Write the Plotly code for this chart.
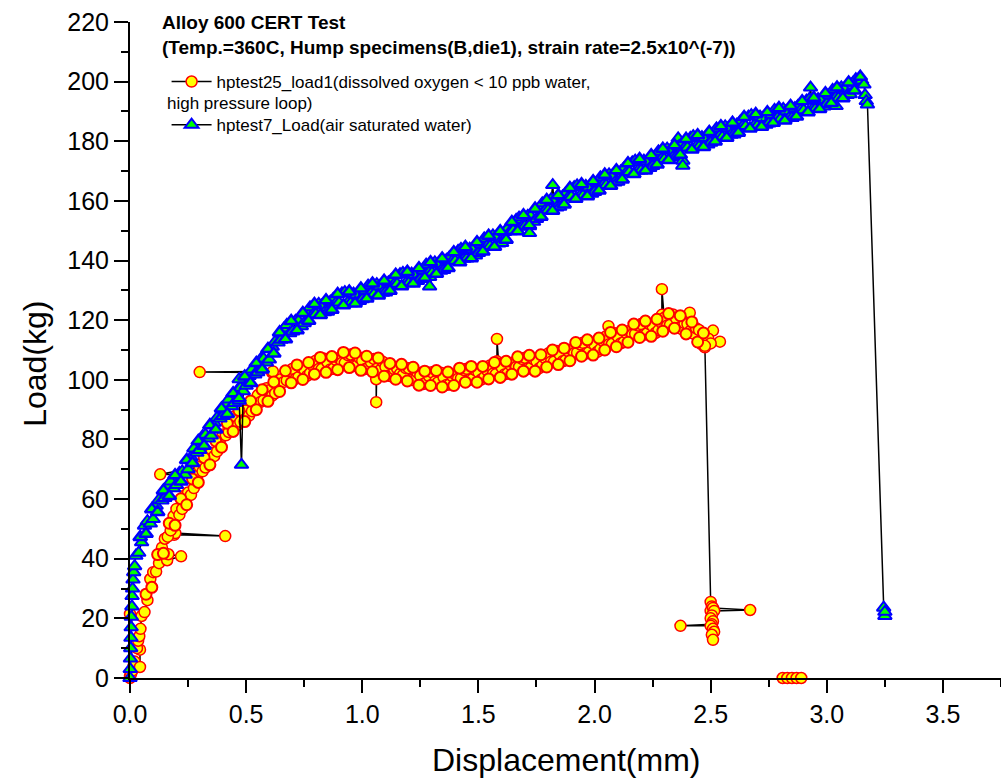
import plotly.graph_objects as go

# ---- data: hptest25_load1 (dissolved oxygen < 10 ppb water, high pressure loop) ----
red_x = [0.0, 0.0, 0.005, 0.0, 0.01, 0.015, 0.02, 0.043, 0.043, 0.03, 0.035, 0.04, 0.045,
         0.05, 0.0625, 0.075, 0.0875, 0.1, 0.1125, 0.125, 0.16, 0.22, 0.165, 0.1375, 0.15,
         0.19, 0.41, 0.195, 0.1625, 0.175, 0.1875, 0.2, 0.2125, 0.225, 0.2375, 0.25, 0.2625,
         0.275, 0.2875, 0.29, 0.13, 0.3, 0.3125, 0.325, 0.3375, 0.35, 0.3625, 0.375, 0.3875,
         0.4, 0.4125, 0.425, 0.4375, 0.45, 0.4625, 0.475, 0.4875, 0.5, 0.5125, 0.525, 0.5375,
         0.55, 0.5625, 0.575, 0.5875, 0.6, 0.612, 0.3, 0.615, 0.6125, 0.625, 0.6375, 0.65,
         0.6625, 0.675, 0.6875, 0.7, 0.7125, 0.725, 0.7375, 0.75, 0.7625, 0.775, 0.7875, 0.8,
         0.8125, 0.825, 0.8375, 0.85, 0.8625, 0.875, 0.8875, 0.9, 0.9125, 0.925, 0.9375, 0.95,
         0.9625, 0.975, 0.9875, 1.0, 1.0125, 1.025, 1.0375, 1.05, 1.06, 1.06, 1.0625, 1.075,
         1.0875, 1.1, 1.1125, 1.125, 1.1375, 1.15, 1.1625, 1.175, 1.1875, 1.2, 1.2125, 1.225,
         1.2375, 1.25, 1.2625, 1.275, 1.2875, 1.3, 1.3125, 1.325, 1.3375, 1.35, 1.3625, 1.375,
         1.3875, 1.4, 1.4125, 1.425, 1.4375, 1.45, 1.4625, 1.475, 1.4875, 1.5, 1.5125, 1.525,
         1.5375, 1.55, 1.5625, 1.575, 1.58, 1.58, 1.5875, 1.6, 1.6125, 1.625, 1.6375, 1.65,
         1.6625, 1.675, 1.6875, 1.7, 1.7125, 1.725, 1.7375, 1.75, 1.7625, 1.775, 1.7875, 1.8,
         1.8125, 1.825, 1.8375, 1.85, 1.8625, 1.875, 1.8875, 1.9, 1.9125, 1.925, 1.9375, 1.95,
         1.9625, 1.975, 1.9875, 2.0, 2.0125, 2.025, 2.0375, 2.05, 2.06, 2.0625, 2.075, 2.0875,
         2.1, 2.1125, 2.125, 2.1375, 2.15, 2.1625, 2.175, 2.1875, 2.2, 2.2125, 2.225, 2.2375,
         2.25, 2.2625, 2.275, 2.2875, 2.29, 2.29, 2.3, 2.3125, 2.325, 2.3375, 2.35, 2.3625,
         2.375, 2.3875, 2.4, 2.41, 2.4125, 2.425, 2.4375, 2.45, 2.4625, 2.475,
         2.51, 2.49, 2.54, 2.5, 2.475,
         2.5, 2.505, 2.5, 2.51, 2.67, 2.515, 2.505, 2.5, 2.51, 2.505, 2.37, 2.5, 2.51, 2.515,
         2.505, 2.51, None, 2.81, 2.83, 2.85, 2.87, 2.89]
red_y = [0.0, 0.8, 1.5, 21.5, 2.5, 4.0, 5.5, 3.7, 9.5, 10.0, 12.5, 14.0, 16.5,
         20.8, 22.1, 26.1, 33.2, 35.5, 35.7, 38.5, 39.5, 40.8, 41.5, 43.7, 46.7,
         48.0, 47.6, 48.6, 47.4, 49.5, 54.3, 56.7, 54.7, 56.7, 61.3, 62.2, 61.4,
         63.7, 67.7, 68.0, 68.3, 70.8, 69.3, 70.6, 75.4, 75.5, 74.4, 76.0, 80.0,
         81.7, 81.4, 82.5, 86.3, 87.7, 84.8, 85.9, 89.6, 89.7, 88.0, 89.5, 92.6,
         94.8, 92.6, 93.1, 97.2, 96.5, 102.4, 102.6, 102.8, 94.7, 95.5, 99.0, 100.2,
         99.3, 99.8, 102.9, 103.7, 100.3, 100.9, 104.0, 103.5, 101.3, 102.2, 104.7, 106.4,
         103.6, 103.6, 107.1, 105.9, 103.5, 103.7, 106.6, 107.2, 105.7, 105.7, 108.3, 108.5,
         104.6, 104.7, 107.4, 106.4, 103.6, 104.0, 105.9, 107.0, 100.2, 92.5, 103.7, 103.1,
         106.1, 104.3, 101.4, 101.2, 103.6, 103.8, 102.0, 101.6, 103.9, 103.9, 99.9, 99.8,
         102.4, 101.3, 98.6, 99.1, 101.2, 102.5, 99.4, 99.1, 102.4, 100.9, 98.3, 98.4,
         101.2, 101.8, 100.4, 100.5, 103.3, 103.7, 100.0, 100.3, 103.2, 102.5, 100.1, 100.8,
         103.2, 104.8, 102.0, 101.9, 106.2, 113.7, 105.4, 104.2, 101.8, 102.1, 105.0, 105.7,
         104.3, 104.3, 107.0, 107.4, 103.7, 104.0, 106.9, 106.2, 103.9, 104.7, 107.2, 108.8,
         106.1, 106.1, 109.7, 108.5, 106.2, 106.5, 109.5, 110.2, 108.9, 109.1, 111.9, 112.4,
         108.8, 109.2, 112.3, 111.7, 109.4, 110.3, 112.9, 114.6, 118.0, 111.9, 112.0, 115.6,
         114.5, 112.2, 112.6, 115.6, 116.4, 115.2, 115.4, 118.2, 118.7, 115.1, 115.5, 118.6,
         118.0, 115.7, 116.6, 119.1, 121.8, 130.4, 120.8, 118.2, 118.4, 121.9, 120.7, 117.5,
         117.0, 119.0, 118.7, 122.5, 116.4, 115.5, 117.3, 116.7, 111.8, 110.9,
         116.5, 113.8, 112.8, 112.2, 111.4,
         25.5, 24.0, 22.5, 23.5, 22.8, 22.5, 21.0, 20.0, 19.0, 18.0, 17.5, 17.5, 16.5, 15.5,
         14.5, 12.8, None, 0.0, 0.0, 0.0, 0.0, 0.0]

# additional readings inside the dense red band (symbols only)
red_band_x = [0.069, 0.094, 0.119, 0.144, 0.169, 0.194, 0.219, 0.244, 0.269, 0.294,
              0.319, 0.344, 0.369, 0.394, 0.419, 0.444, 0.469, 0.494, 0.519, 0.544,
              0.569, 0.594, 0.619, 0.644, 0.669, 0.694, 0.719, 0.744, 0.769, 0.794,
              0.819, 0.844, 0.869, 0.894, 0.919, 0.944, 0.969, 0.994, 1.019, 1.044,
              1.069, 1.094, 1.119, 1.144, 1.169, 1.194, 1.219, 1.244, 1.269, 1.294,
              1.319, 1.344, 1.369, 1.394, 1.419, 1.444, 1.469, 1.494, 1.519, 1.544,
              1.569, 1.594, 1.619, 1.644, 1.669, 1.694, 1.719, 1.744, 1.769, 1.794,
              1.819, 1.844, 1.869, 1.894, 1.919, 1.944, 1.969, 1.994, 2.019, 2.044,
              2.069, 2.094, 2.119, 2.144, 2.169, 2.194, 2.219, 2.244, 2.269, 2.294,
              2.319, 2.344, 2.369, 2.394, 2.419, 2.444, 2.469]
red_band_y = [28.1, 30.4, 41.4, 41.8, 51.9, 51.2, 60.1, 58.1, 66.7, 65.6,
              73.9, 71.5, 79.5, 77.4, 85.4, 82.7, 89.7, 86.0, 92.9, 90.0,
              96.7, 92.8, 99.3, 96.1, 103.0, 99.0, 105.0, 100.1, 105.8, 101.9,
              107.5, 102.5, 107.8, 103.4, 109.2, 104.1, 109.0, 103.2, 107.9, 102.7,
              107.3, 101.2, 105.5, 100.2, 105.2, 99.6, 104.2, 98.2, 102.9, 98.1,
              103.1, 97.6, 102.6, 98.1, 103.9, 99.2, 104.5, 99.2, 104.5, 100.3,
              105.8, 100.8, 106.2, 101.9, 107.7, 102.9, 108.2, 102.9, 108.4, 104.3,
              110.0, 105.1, 110.6, 106.4, 112.5, 107.9, 113.4, 108.3, 114.0, 110.0,
              115.9, 111.1, 116.7, 112.6, 118.7, 114.2, 119.7, 114.6, 120.3, 116.3,
              122.2, 117.3, 121.5, 115.4, 119.4, 112.7, 115.7]

# ---- data: hptest7_Load (air saturated water) ----
blue_x = [0.0, 0.001, 0.002, 0.003, 0.004, 0.005, 0.006, 0.008, 0.009, 0.011, 0.013, 0.016, 0.02,
          0.025, 0.0375, 0.05, 0.0625, 0.075, 0.0875, 0.1, 0.1125, 0.125, 0.1375, 0.15, 0.1625,
          0.175, 0.1875, 0.2, 0.2125, 0.225, 0.2375, 0.25, 0.2625, 0.275, 0.2875, 0.3, 0.3125,
          0.325, 0.3375, 0.35, 0.3625, 0.375, 0.3875, 0.4, 0.4125, 0.425, 0.4375, 0.45, 0.4625,
          0.475, 0.47, 0.47, 0.48, 0.4875, 0.5, 0.5125, 0.525, 0.5375, 0.55, 0.5625, 0.575,
          0.5875, 0.6, 0.6125, 0.625, 0.6375, 0.65, 0.6625, 0.675, 0.6875, 0.7, 0.7125, 0.725,
          0.7375, 0.75, 0.7625, 0.775, 0.7875, 0.8, 0.8125, 0.825, 0.8375, 0.85, 0.8625, 0.875,
          0.8875, 0.9, 0.9125, 0.925, 0.9375, 0.95, 0.9625, 0.975, 0.9875, 1.0, 1.0125, 1.025,
          1.0375, 1.05, 1.0625, 1.075, 1.0875, 1.1, 1.1125, 1.125, 1.1375, 1.15, 1.1625, 1.175,
          1.1875, 1.2, 1.2125, 1.225, 1.2375, 1.25, 1.2625, 1.275, 1.2875, 1.29, 1.29, 1.3,
          1.3125, 1.325, 1.3375, 1.35, 1.3625, 1.375, 1.3875, 1.4, 1.4125, 1.425, 1.4375, 1.45,
          1.4625, 1.475, 1.4875, 1.5, 1.5125, 1.525, 1.5375, 1.55, 1.5625, 1.575, 1.5875, 1.6,
          1.6125, 1.625, 1.6375, 1.65, 1.6625, 1.675, 1.6875, 1.7, 1.7125, 1.72, 1.72, 1.725,
          1.7375, 1.75, 1.7625, 1.775, 1.7875, 1.8, 1.8125, 1.82, 1.825, 1.8375, 1.85, 1.8625,
          1.875, 1.8875, 1.9, 1.9125, 1.925, 1.9375, 1.95, 1.9625, 1.975, 1.9875, 2.0, 2.0125,
          2.025, 2.0375, 2.05, 2.0625, 2.075, 2.0875, 2.1, 2.1125, 2.125, 2.1375, 2.15, 2.1625,
          2.175, 2.1875, 2.2, 2.2125, 2.225, 2.2375, 2.25, 2.2625, 2.275, 2.2875, 2.3, 2.3125,
          2.325, 2.3375, 2.35, 2.36, 2.38, 2.38, 2.3625, 2.375, 2.3875, 2.4, 2.4125, 2.425,
          2.4375, 2.45, 2.4625, 2.475, 2.4875, 2.5, 2.5125, 2.525, 2.5375, 2.55, 2.5625, 2.575,
          2.5875, 2.6, 2.6125, 2.625, 2.6375, 2.65, 2.6625, 2.675, 2.6875, 2.7, 2.7125, 2.725,
          2.7375, 2.75, 2.7625, 2.775, 2.7875, 2.8, 2.8125, 2.825, 2.8375, 2.85, 2.8625, 2.875,
          2.8875, 2.9, 2.9125, 2.925, 2.93, 2.9375, 2.95, 2.9625, 2.975, 2.9875, 3.0, 3.0125,
          3.025, 3.04, 3.0375, 3.05, 3.0625, 3.075, 3.0875, 3.1, 3.1125, 3.125, 3.1375, 3.15,
          3.16, 3.165, 3.17, 3.175, 3.245, 3.25, 3.25]
blue_y = [0.0, 3.0, 6.5, 10.0, 13.5, 17.0, 20.5, 24.0, 27.5, 30.0, 33.0, 35.5, 37.5,
          41.0, 42.0, 45.5, 51.1, 52.6, 51.8, 53.3, 57.8, 59.8, 59.5, 60.4, 64.5,
          65.9, 63.6, 64.7, 68.8, 69.3, 68.2, 70.0, 74.0, 77.0, 75.5, 76.5, 81.1,
          81.6, 80.3, 81.3, 85.6, 87.3, 87.0, 87.9, 92.0, 93.4, 91.1, 92.2, 96.5,
          97.3, 100.2, 93.0, 71.5, 96.2, 98.0, 101.3, 103.5, 101.8, 102.5, 106.9, 107.1,
          105.8, 106.8, 111.1, 112.8, 112.5, 113.4, 117.2, 118.4, 115.6, 116.2, 119.8, 119.8,
          118.0, 119.0, 122.2, 124.3, 121.9, 122.0, 125.5, 124.9, 122.7, 122.8, 126.2, 127.1,
          125.9, 125.9, 129.0, 129.4, 125.9, 125.7, 128.9, 128.6, 126.4, 127.0, 129.8, 131.6,
          128.9, 128.7, 132.1, 131.4, 129.2, 129.3, 132.7, 133.5, 132.2, 132.2, 135.4, 135.9,
          132.5, 132.4, 135.6, 135.3, 133.1, 133.8, 136.7, 138.6, 136.0, 134.5, 131.3, 135.9,
          139.4, 138.8, 136.6, 136.8, 140.2, 141.1, 139.9, 139.9, 143.2, 143.9, 140.6, 140.7,
          144.0, 143.8, 141.7, 142.5, 145.5, 147.4, 144.9, 144.8, 148.4, 147.8, 145.7, 145.9,
          149.6, 150.7, 149.8, 150.1, 153.6, 154.4, 151.3, 151.5, 155.0, 151.5, 149.2, 154.9,
          153.0, 153.9, 157.1, 159.2, 156.8, 156.9, 160.5, 165.3, 159.9, 157.8, 158.0, 161.5,
          162.4, 161.3, 161.4, 164.6, 165.2, 161.8, 161.8, 165.0, 164.6, 162.4, 163.0, 166.0,
          167.9, 165.4, 165.3, 168.9, 168.3, 166.2, 166.4, 169.9, 170.8, 169.6, 169.7, 172.9,
          173.5, 170.2, 170.2, 173.5, 173.2, 171.0, 171.7, 174.7, 176.6, 174.1, 174.0, 177.5,
          176.9, 174.7, 174.8, 181.0, 173.5, 171.8, 178.2, 179.1, 177.9, 177.9, 181.1, 181.7,
          178.3, 178.2, 181.4, 181.1, 178.9, 179.5, 182.4, 184.3, 181.7, 181.5, 185.0, 184.4,
          182.2, 182.3, 185.6, 186.4, 185.1, 185.1, 188.3, 188.8, 185.3, 185.2, 188.3, 187.8,
          185.5, 186.0, 188.8, 190.5, 187.8, 187.5, 190.9, 190.1, 187.8, 187.8, 191.1, 191.8,
          190.5, 190.4, 193.6, 194.2, 198.0, 190.8, 190.8, 194.1, 193.8, 191.7, 192.5, 195.4,
          197.2, 191.8, 194.6, 194.5, 198.1, 197.6, 195.5, 195.8, 199.6, 200.8, 199.9, 200.4,
          199.0, 195.5, 193.5, 192.3, 23.6, 20.8, 22.2]

# additional readings inside the dense blue band (symbols only)
blue_band_x = [0.044, 0.069, 0.094, 0.119, 0.144, 0.169, 0.194, 0.219, 0.244, 0.269,
               0.294, 0.319, 0.344, 0.369, 0.394, 0.419, 0.444, 0.469, 0.494, 0.519,
               0.544, 0.569, 0.594, 0.619, 0.644, 0.669, 0.694, 0.719, 0.744, 0.769,
               0.794, 0.819, 0.844, 0.869, 0.894, 0.919, 0.944, 0.969, 0.994, 1.019,
               1.044, 1.069, 1.094, 1.119, 1.144, 1.169, 1.194, 1.219, 1.244, 1.269,
               1.294, 1.319, 1.344, 1.369, 1.394, 1.419, 1.444, 1.469, 1.494, 1.519,
               1.544, 1.569, 1.594, 1.619, 1.644, 1.669, 1.694, 1.719, 1.744, 1.769,
               1.794, 1.819, 1.844, 1.869, 1.894, 1.919, 1.944, 1.969, 1.994, 2.019,
               2.044, 2.069, 2.094, 2.119, 2.144, 2.169, 2.194, 2.219, 2.244, 2.269,
               2.294, 2.319, 2.344, 2.369, 2.394, 2.419, 2.444, 2.469, 2.494, 2.519,
               2.544, 2.569, 2.594, 2.619, 2.644, 2.669, 2.694, 2.719, 2.744, 2.769,
               2.794, 2.819, 2.844, 2.869, 2.894, 2.919, 2.944, 2.969, 2.994, 3.019,
               3.044, 3.069, 3.094, 3.119, 3.144]
blue_band_y = [47.3, 48.4, 56.6, 55.7, 62.9, 61.0, 68.0, 65.9, 73.1, 72.1,
               79.5, 77.9, 84.8, 83.3, 90.4, 88.5, 95.5, 93.8, 101.1, 98.9,
               105.6, 103.5, 110.3, 108.8, 115.9, 113.6, 119.7, 116.6, 122.4, 119.8,
               125.4, 121.7, 126.7, 123.5, 128.8, 125.0, 129.6, 125.6, 130.6, 127.3,
               132.3, 128.3, 133.2, 129.9, 135.2, 131.4, 136.2, 132.3, 137.4, 134.2,
               139.4, 135.6, 140.7, 137.5, 142.8, 139.4, 144.5, 140.8, 146.1, 143.0,
               148.3, 144.6, 149.8, 147.0, 152.9, 149.8, 155.2, 151.8, 157.4, 154.7,
               160.3, 156.7, 161.9, 158.8, 164.3, 160.7, 165.6, 161.6, 166.6, 163.5,
               168.8, 165.1, 170.3, 167.2, 172.6, 169.0, 174.0, 170.2, 175.3, 172.2,
               177.5, 173.7, 178.7, 175.5, 180.8, 177.2, 182.0, 178.1, 183.1, 179.9,
               185.0, 181.2, 186.2, 182.9, 188.1, 184.3, 189.1, 184.9, 189.7, 186.2,
               191.1, 187.0, 191.8, 188.3, 193.4, 189.7, 194.6, 190.8, 196.1, 192.8,
               198.0, 194.4, 199.7, 197.0, 201.6]

red_name = "hptest25_load1(dissolved oxygen &lt; 10 ppb water,"
red_name_cont = "high pressure loop)"
blue_name = "hptest7_Load(air saturated water)"
title_lines = ["Alloy 600 CERT Test",
               "(Temp.=360C, Hump specimens(B,die1), strain rate=2.5x10^(-7))"]
x_ticks = [0.0, 0.5, 1.0, 1.5, 2.0, 2.5, 3.0, 3.5]
y_ticks = list(range(0, 221, 20))

FONT = "Liberation Sans, Arial, sans-serif"
red_marker = dict(symbol="circle", size=11, color="#FFFF00",
                  line=dict(color="#FF0000", width=1.5))
red_band_marker = dict(symbol="circle", size=11, color="#FFFF00",
                       line=dict(color="#FF0000", width=2))
blue_marker = dict(symbol="triangle-up", size=12, color="#00FF00",
                   line=dict(color="#0000FF", width=2))
blue_band_marker = dict(symbol="triangle-up", size=12, color="#00FF00",
                        line=dict(color="#0000FF", width=2.5))

fig = go.Figure()
fig.add_trace(go.Scatter(
    x=red_x, y=red_y, name=red_name, legendgroup="a", mode="lines+markers", connectgaps=False,
    line=dict(color="black", width=1.5), marker=red_marker, cliponaxis=False))
fig.add_trace(go.Scatter(
    x=red_band_x, y=red_band_y, legendgroup="a", showlegend=False, mode="markers",
    marker=red_band_marker, cliponaxis=False))
fig.add_trace(go.Scatter(
    x=blue_x, y=blue_y, name=blue_name, legendgroup="b", mode="lines+markers",
    line=dict(color="black", width=1.5), marker=blue_marker, cliponaxis=False))
fig.add_trace(go.Scatter(
    x=blue_band_x, y=blue_band_y, legendgroup="b", showlegend=False, mode="markers",
    marker=blue_band_marker, cliponaxis=False))

axis_common = dict(showline=True, linecolor="black", linewidth=2, ticks="outside",
                   tickcolor="black", tickwidth=2, showgrid=False, zeroline=False,
                   tickfont=dict(family=FONT, size=25, color="black"), mirror=False)

fig.update_xaxes(range=[0, 3.75], tickvals=x_ticks, ticktext=[f"{v:.1f}" for v in x_ticks],
                 ticklen=13, minor=dict(dtick=0.25, tick0=0, ticklen=7, tickwidth=2,
                                        tickcolor="black", ticks="outside"),
                 **axis_common)
fig.update_yaxes(range=[0, 220], tickvals=y_ticks, ticklen=14,
                 minor=dict(dtick=10, tick0=0, ticklen=7, tickwidth=2,
                            tickcolor="black", ticks="outside"),
                 **axis_common)

annotations = [
    dict(text="Displacement(mm)", xref="paper", yref="paper", x=0.5, y=-0.125,
         xanchor="center", yanchor="middle", showarrow=False,
         font=dict(family=FONT, size=32, color="black")),
    dict(text="Load(kg)", xref="paper", yref="paper", x=-0.109, y=0.479, textangle=-90,
         xanchor="center", yanchor="middle", showarrow=False,
         font=dict(family=FONT, size=32, color="black")),
    dict(text="<b>" + title_lines[0] + "</b>", xref="paper", yref="paper", x=0.0345, y=0.999,
         xanchor="left", yanchor="middle", showarrow=False,
         font=dict(family=FONT, size=19, color="black")),
    dict(text="<b>" + title_lines[1] + "</b>", xref="paper", yref="paper", x=0.0345, y=0.961,
         xanchor="left", yanchor="middle", showarrow=False,
         font=dict(family=FONT, size=19, color="black")),
    dict(text=red_name_cont, xref="paper", yref="paper", x=0.0405, y=0.8765,
         xanchor="left", yanchor="middle", showarrow=False,
         font=dict(family=FONT, size=17, color="black")),
]

fig.update_layout(
    width=1001, height=781,
    margin=dict(l=130, r=0, t=22, b=103),
    plot_bgcolor="white", paper_bgcolor="white",
    showlegend=True,
    legend=dict(x=0.042, y=0.936, xanchor="left", yanchor="top", valign="top",
                bgcolor="rgba(0,0,0,0)", tracegroupgap=18, itemwidth=40,
                font=dict(family=FONT, size=17, color="black")),
    annotations=annotations,
)

fig.write_html("out.html", config={"displayModeBar": False},
               post_script="document.body.style.margin='0px';document.body.style.overflow='hidden';")
